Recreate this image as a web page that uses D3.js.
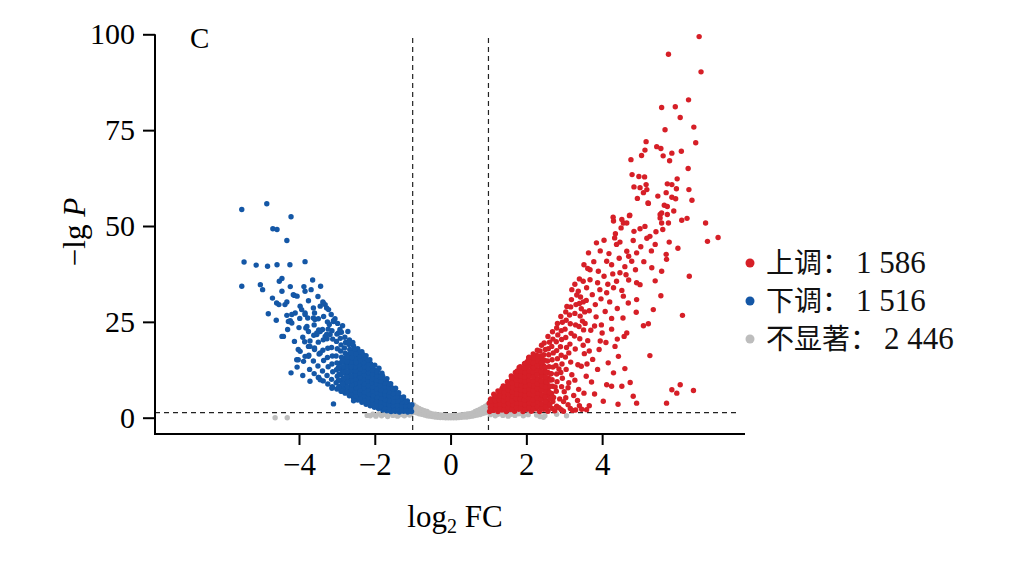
<!DOCTYPE html>
<html>
<head>
<meta charset="utf-8">
<script src="https://cdn.jsdelivr.net/npm/d3@7"></script>
<style>
  body { margin: 0; background: #fff; }
</style>
</head>
<body>
<div id="chart"></div>
<script>
// log2 FC, -lg P
var upPoints = [
  // dense core
  [1.03,1.6],[1.05,2.7],[1.02,3.8],[1.06,4.9],
  [1.13,1.9],[1.15,3.0],[1.12,4.1],[1.16,5.2],[1.14,6.1],
  [1.25,1.6],[1.24,2.6],[1.27,3.7],[1.23,4.8],[1.26,5.9],[1.25,7.0],
  [1.36,2.0],[1.35,3.1],[1.38,4.3],[1.34,5.4],[1.37,6.5],[1.36,7.6],[1.39,8.3],
  [1.47,1.6],[1.48,2.7],[1.46,3.8],[1.49,4.9],[1.45,6.0],[1.48,7.1],[1.47,8.2],[1.5,9.4],
  [1.58,2.1],[1.6,3.2],[1.57,4.4],[1.59,5.5],[1.56,6.6],[1.6,7.7],[1.58,8.9],[1.61,10.0],[1.6,10.9],
  [1.69,1.7],[1.7,2.8],[1.68,3.9],[1.71,5.0],[1.69,6.1],[1.67,7.2],[1.7,8.4],[1.72,9.5],[1.68,10.6],[1.71,11.8],
  [1.8,2.2],[1.81,3.3],[1.79,4.5],[1.82,5.6],[1.8,6.7],[1.78,7.9],[1.82,9.0],[1.8,10.1],[1.79,11.2],[1.83,12.4],[1.81,13.1],
  [1.91,1.6],[1.92,2.7],[1.9,3.8],[1.93,5.0],[1.91,6.2],[1.89,7.3],[1.92,8.4],[1.9,9.6],[1.94,10.7],[1.91,11.8],[1.92,12.9],[1.95,14.1],
  [2.02,2.2],[2.03,3.3],[2.01,4.4],[2.04,5.6],[2.02,6.7],[2.0,7.8],[2.03,9.0],[2.02,10.1],[2.05,11.3],[2.01,12.4],[2.04,13.6],[2.03,14.7],[2.06,15.6],
  [2.13,1.7],[2.14,2.8],[2.12,3.9],[2.15,5.1],[2.13,6.2],[2.11,7.4],[2.14,8.5],[2.12,9.6],[2.16,10.8],[2.13,12.0],[2.15,13.1],[2.12,14.3],[2.16,15.5],[2.18,16.6],
  [2.24,2.3],[2.25,3.4],[2.23,4.6],[2.26,5.7],[2.24,6.9],[2.22,8.0],[2.25,9.2],[2.23,10.4],[2.27,11.5],[2.24,12.7],[2.26,13.9],[2.23,15.0],[2.27,16.3],[2.29,17.6],
  [2.35,1.6],[2.36,2.9],[2.34,4.1],[2.37,5.3],[2.35,6.4],[2.33,7.6],[2.36,8.8],[2.34,10.0],[2.38,11.2],[2.35,12.4],[2.37,13.6],[2.34,14.9],[2.39,16.1],[2.36,17.4],[2.4,18.9],
  [2.46,2.2],[2.47,3.5],[2.45,4.8],[2.48,6.0],[2.46,7.2],[2.44,8.5],[2.47,9.7],[2.46,11.0],[2.49,12.3],[2.45,13.6],[2.48,15.0],[2.46,16.4],[2.5,17.8],[2.47,19.5],
  [2.57,1.7],[2.58,3.0],[2.56,4.4],[2.59,5.8],[2.57,7.3],[2.55,8.8],[2.58,10.3],[2.57,11.8],[2.6,13.3],[2.56,14.8],[2.59,16.4],[2.58,18.0],[2.61,19.7],[2.57,21.2],
  [2.68,2.4],[2.7,4.2],[2.67,6.3],[2.69,8.2],[2.68,9.9],[2.66,11.5],[2.7,13.2],[2.68,15.1],[2.71,16.9],[2.67,18.6],[2.7,20.5],[2.69,22.4],
  [2.8,3.0],[2.79,6.9],[2.81,9.4],[2.8,11.4],[2.78,13.6],[2.82,15.4],[2.8,17.5],[2.79,19.8],[2.83,21.6],[2.8,23.4],[2.82,24.6],
  [2.92,2.1],[2.93,8.1],[2.91,11.8],[2.94,14.0],[2.92,16.3],[2.9,18.5],[2.93,20.4],[2.92,22.7],[2.95,24.9],[2.91,26.4],
  [3.04,5.2],[3.05,12.6],[3.03,15.8],[3.06,18.3],[3.04,20.9],[3.02,23.1],[3.05,25.4],[3.04,27.6],[3.07,29.0],
  [3.16,2.4],[3.17,14.5],[3.15,19.2],[3.18,22.0],[3.16,24.5],[3.14,26.8],[3.17,28.9],[3.19,30.8],
  [3.28,9.8],[3.29,17.9],[3.27,21.3],[3.3,24.2],[3.28,27.2],[3.31,29.5],[3.33,32.0],
  [3.4,3.1],[3.41,20.6],[3.39,23.8],[3.42,26.5],[3.4,29.8],[3.43,31.5],
  [3.52,6.4],[3.53,16.7],[3.51,22.9],[3.54,27.6],[3.5,30.2],
  [2.75,1.8],[2.86,2.6],[2.98,1.7],[3.1,3.4],[3.22,1.9],[3.35,4.5],[3.46,2.2],[2.72,5.3],[2.88,4.9],
  [3.0,6.8],[2.95,10.3],[3.1,7.8],[2.76,8.0],[2.86,12.7],[3.2,11.2],[3.12,16.9],[3.36,13.8],
  // core fill
  [1.08,2.2],[1.09,3.3],[1.07,4.4],
  [1.19,2.3],[1.2,3.4],[1.18,4.5],[1.2,5.6],
  [1.3,2.4],[1.31,3.5],[1.29,4.6],[1.3,5.8],[1.32,6.9],
  [1.41,2.2],[1.42,3.3],[1.4,4.4],[1.42,5.5],[1.41,6.6],[1.43,7.7],
  [1.52,2.6],[1.53,3.7],[1.51,4.9],[1.53,6.1],[1.52,7.2],[1.54,8.4],
  [1.63,2.3],[1.64,3.4],[1.62,4.5],[1.64,5.6],[1.63,6.8],[1.65,7.9],[1.63,9.1],[1.63,10.3],
  [1.74,2.6],[1.75,3.8],[1.73,5.0],[1.75,6.2],[1.74,7.4],[1.76,8.6],[1.74,9.8],[1.74,11.0],[1.76,12.2],
  [1.85,2.5],[1.86,3.7],[1.84,4.9],[1.86,6.1],[1.85,7.3],[1.87,8.5],[1.85,9.7],[1.85,10.9],[1.86,12.1],[1.84,13.3],
  [1.96,2.2],[1.97,3.4],[1.95,4.6],[1.97,5.8],[1.96,7.0],[1.98,8.2],[1.96,9.4],[1.96,10.6],[1.97,11.8],[1.95,13.0],[1.97,14.2],
  [2.07,2.6],[2.08,3.8],[2.06,5.0],[2.08,6.2],[2.07,7.4],[2.09,8.6],[2.07,9.8],[2.07,11.0],[2.08,12.2],[2.06,13.4],[2.08,14.6],[2.07,15.8],
  [2.18,2.3],[2.19,3.5],[2.17,4.7],[2.19,5.9],[2.18,7.1],[2.2,8.3],[2.18,9.5],[2.19,10.7],[2.17,11.9],[2.19,13.1],[2.18,14.3],[2.2,15.5],
  [2.29,2.8],[2.3,4.0],[2.28,5.2],[2.3,6.4],[2.29,7.6],[2.29,8.8],[2.3,10.0],[2.28,11.2],[2.3,12.4],[2.29,13.6],[2.31,14.8],[2.3,16.0],
  [2.4,2.4],[2.41,3.6],[2.39,4.8],[2.41,6.0],[2.4,7.2],[2.41,8.4],[2.39,9.6],[2.41,10.8],[2.4,12.0],[2.42,13.2],[2.4,14.4],[2.41,15.7],
  [2.51,2.8],[2.52,4.1],[2.5,5.4],[2.52,6.7],[2.51,8.0],[2.53,9.3],[2.51,10.6],[2.52,11.9],[2.5,13.2],
  [2.62,3.5],[2.63,5.0],[2.61,6.6],[2.63,8.2],[2.62,9.8],[2.64,11.4],
  // middle band
  [3.45,28.4],[3.58,30.6],[3.66,27.9],[3.74,32.1],[3.82,29.5],[3.88,35.2],[3.97,31.0],[4.05,36.9],[4.15,34.8],
  [4.2,30.2],[4.28,37.5],[4.38,35.6],[4.45,41.6],[4.52,33.2],[4.6,39.4],[4.7,42.1],[4.82,46.2],[4.88,38.6],
  [5.02,44.6],[5.1,40.7],[5.18,46.8],[5.3,43.5],[5.42,48.5],[3.55,24.6],[3.7,22.8],[3.84,26.3],[3.98,24.2],
  [4.08,27.7],[4.25,25.9],[4.4,28.5],[4.1,19.6],[3.92,17.8],[3.75,15.2],[3.62,20.1],[3.88,12.6],[4.0,22.1],
  [3.72,9.3],[3.8,6.2],[3.45,13.4],[3.58,10.8],[3.38,7.4],[3.66,3.1],[3.25,5.8],[3.12,9.1],[2.98,4.2],
  [3.3,2.0],[4.42,3.5],[4.6,12.8],[3.5,18.9],[4.9,27.5],[5.55,31.8],[5.4,35.7],[6.3,36.9],[6.0,44.2],
  [5.22,55.9],[5.53,53.0],[4.56,50.8],[4.72,52.7],[4.84,48.6],[5.0,49.3],[5.13,49.9],[4.35,48.0],[5.26,47.3],
  [5.4,45.2],[5.6,49.1],[5.57,50.8],[5.77,45.8],[5.69,42.6],[5.7,41.3],[5.31,39.1],[5.57,38.2],[4.47,45.8],
  [4.38,45.2],[4.65,43.4],[4.91,43.0],[4.78,40.8],[3.64,43.0],[4.12,40.8],[4.25,39.9],[3.68,38.6],[3.9,38.2],
  [4.47,37.8],[4.63,37.3],[4.91,35.2],[5.0,34.7],[3.5,35.6],[3.68,36.0],[3.2,33.4],[3.37,33.0],[3.59,33.9],
  [3.94,33.4],[4.12,32.6],[4.3,33.9],[4.56,31.7],[4.69,29.9],[4.91,30.8],
  [3.62,38.9],[3.78,40.7],[3.95,43.5],[4.18,42.8],[4.33,46.9],[3.85,45.6],[4.5,49.5],[3.4,36.2],[3.28,34.8],
  [3.52,39.9],[4.05,46.3],[4.7,35.9],[4.25,23.1],[4.55,26.0],[3.95,20.0],[4.4,20.5],[3.66,17.4],[3.8,23.9],
  [3.48,25.2],[3.6,14.0],
  // scattered right
  [4.12,8.6],[4.25,8.2],[4.52,8.2],[4.74,9.2],[4.82,5.6],[4.91,3.8],[5.7,3.8],[5.84,7.3],[6.06,8.6],
  [5.97,6.4],[6.41,7.1],[4.03,4.3],[3.59,2.1],[4.16,14.3],[4.3,11.7],[4.34,18.6],[4.43,16.0],[5.26,16.2],
  [4.65,22.1],[4.58,21.2],[5.09,24.0],[5.22,24.5],[6.12,26.7],[5.35,28.2],
  // top
  [6.56,99.4],[5.75,94.8],[6.61,90.2],[6.28,82.9],[5.57,80.9],[5.93,81.1],[6.06,78.3],[6.42,75.8],[5.66,75.1],
  [5.16,72.0],[6.47,71.7],[5.44,70.7],[5.55,70.2],[5.13,69.8],[5.04,68.4],[5.84,69.0],[6.09,69.5],[5.61,68.3],
  [5.78,67.0],[4.76,67.3],[6.27,65.0],[4.79,63.4],[4.97,62.9],[5.12,62.8],[5.98,62.3],[4.84,60.2],[5.0,60.0],
  [5.16,60.8],[5.18,59.5],[5.72,61.0],[5.84,60.8],[5.96,59.7],[6.29,59.5],[5.09,58.7],[5.69,58.7],[5.47,57.8],
  [4.93,57.2],[5.84,57.5],[5.94,57.1],[6.37,56.7],[5.21,56.0],[5.64,55.4],[5.72,55.1],[5.89,53.9],[4.73,52.8],
  [4.29,52.3],[4.52,51.7],[4.65,50.8],[4.3,51.3],[5.57,53.4],[5.72,53.0],[5.53,52.1],[5.75,50.8],[6.1,51.5],
  [6.24,52.0],[6.73,50.8],[7.06,47.0],[6.78,46.0]
];

var downPoints = [
  // dense core
  [-1.03,1.6],[-1.05,2.6],[-1.02,3.4],
  [-1.13,1.5],[-1.15,2.5],[-1.12,3.5],[-1.14,4.4],
  [-1.24,1.7],[-1.26,2.7],[-1.23,3.7],[-1.25,4.7],[-1.24,5.4],
  [-1.35,1.5],[-1.37,2.5],[-1.34,3.5],[-1.36,4.5],[-1.35,5.5],[-1.37,6.5],
  [-1.46,1.7],[-1.48,2.7],[-1.45,3.8],[-1.47,4.8],[-1.46,5.9],[-1.48,6.9],[-1.45,7.7],
  [-1.57,1.6],[-1.59,2.6],[-1.56,3.7],[-1.58,4.7],[-1.57,5.8],[-1.59,6.9],[-1.56,7.9],[-1.58,8.9],
  [-1.68,1.8],[-1.7,2.9],[-1.67,4.0],[-1.69,5.0],[-1.68,6.1],[-1.7,7.2],[-1.67,8.3],[-1.69,9.3],[-1.68,10.2],
  [-1.79,2.0],[-1.81,3.1],[-1.78,4.2],[-1.8,5.3],[-1.79,6.4],[-1.81,7.5],[-1.78,8.6],[-1.8,9.7],[-1.79,10.8],[-1.81,11.6],
  [-1.9,2.4],[-1.92,3.5],[-1.89,4.6],[-1.91,5.7],[-1.9,6.8],[-1.92,7.9],[-1.89,9.0],[-1.91,10.1],[-1.9,11.2],[-1.92,12.3],[-1.89,12.9],
  [-2.01,2.7],[-2.03,3.8],[-2.0,4.9],[-2.02,6.0],[-2.01,7.1],[-2.03,8.2],[-2.0,9.3],[-2.02,10.4],[-2.01,11.5],[-2.03,12.6],[-2.0,13.7],
  [-2.12,3.1],[-2.14,4.2],[-2.11,5.3],[-2.13,6.4],[-2.12,7.5],[-2.14,8.6],[-2.11,9.7],[-2.13,10.8],[-2.12,11.9],[-2.14,13.0],[-2.11,14.1],[-2.13,15.1],
  [-2.23,3.5],[-2.25,4.6],[-2.22,5.7],[-2.24,6.8],[-2.23,7.9],[-2.25,9.0],[-2.22,10.1],[-2.24,11.2],[-2.23,12.3],[-2.25,13.4],[-2.22,14.5],[-2.24,15.6],[-2.23,16.2],
  [-2.34,4.0],[-2.36,5.1],[-2.33,6.2],[-2.35,7.3],[-2.34,8.4],[-2.36,9.5],[-2.33,10.6],[-2.35,11.7],[-2.34,12.8],[-2.36,13.9],[-2.33,15.0],[-2.35,16.1],[-2.34,17.2],
  [-2.45,4.6],[-2.47,5.7],[-2.44,6.8],[-2.46,7.9],[-2.45,9.0],[-2.47,10.1],[-2.44,11.2],[-2.46,12.3],[-2.45,13.4],[-2.47,14.5],[-2.44,15.6],[-2.46,16.8],[-2.45,18.0],
  [-2.56,5.2],[-2.58,6.3],[-2.55,7.4],[-2.57,8.5],[-2.56,9.6],[-2.58,10.7],[-2.55,11.8],[-2.57,12.9],[-2.56,14.0],[-2.58,15.1],[-2.55,16.3],[-2.57,17.5],[-2.56,18.7],[-2.58,19.6],
  [-2.67,5.7],[-2.69,6.9],[-2.66,8.1],[-2.68,9.3],[-2.67,10.5],[-2.69,11.7],[-2.66,12.9],[-2.68,14.1],[-2.67,15.3],[-2.69,16.5],[-2.66,17.8],[-2.68,19.1],[-2.67,20.3],
  [-2.78,6.4],[-2.8,7.7],[-2.77,9.0],[-2.79,10.3],[-2.78,11.6],[-2.8,12.9],[-2.77,14.2],[-2.79,15.5],[-2.78,16.8],[-2.8,18.2],[-2.77,19.6],[-2.79,21.0],
  [-2.89,6.9],[-2.91,8.3],[-2.88,9.7],[-2.9,11.2],[-2.89,12.7],[-2.91,14.2],[-2.88,15.8],[-2.9,17.4],[-2.89,19.0],[-2.91,20.7],[-2.88,22.3],
  [-3.0,7.5],[-3.02,9.1],[-2.99,10.8],[-3.01,12.5],[-3.0,14.3],[-3.02,16.1],[-2.99,18.0],[-3.01,19.9],[-3.0,21.8],
  [-3.12,8.1],[-3.14,10.0],[-3.11,12.0],[-3.13,14.0],[-3.12,16.1],[-3.14,18.3],[-3.11,20.5],[-3.13,22.7],
  [-3.24,8.8],[-3.26,11.0],[-3.23,13.3],[-3.25,15.7],[-3.24,18.1],[-3.26,20.6],[-3.23,23.1],
  [-3.36,9.6],[-3.38,12.2],[-3.35,14.9],[-3.37,17.6],[-3.36,20.3],[-3.38,23.0],
  [-3.48,10.5],[-3.5,13.5],[-3.47,16.6],[-3.49,19.7],[-3.48,22.9],
  [-3.6,11.5],[-3.62,14.8],[-3.59,18.2],[-3.61,21.5],
  [-3.72,12.6],[-3.74,16.3],[-3.71,20.0],
  // core fill
  [-1.08,2.1],[-1.09,3.0],
  [-1.19,2.1],[-1.2,3.1],[-1.18,4.1],
  [-1.3,2.0],[-1.31,3.0],[-1.29,4.0],[-1.3,5.0],
  [-1.41,2.2],[-1.42,3.2],[-1.4,4.3],[-1.42,5.4],[-1.41,6.4],
  [-1.52,2.1],[-1.53,3.2],[-1.51,4.2],[-1.53,5.3],[-1.52,6.3],[-1.54,7.4],
  [-1.63,2.3],[-1.64,3.4],[-1.62,4.5],[-1.64,5.6],[-1.63,6.7],[-1.65,7.7],[-1.63,8.8],
  [-1.74,2.5],[-1.75,3.6],[-1.73,4.7],[-1.75,5.8],[-1.74,6.9],[-1.76,8.0],[-1.74,9.1],[-1.75,10.0],
  [-1.85,2.9],[-1.86,4.0],[-1.84,5.1],[-1.86,6.2],[-1.85,7.3],[-1.87,8.4],[-1.85,9.5],[-1.86,10.6],
  [-1.96,3.2],[-1.97,4.3],[-1.95,5.4],[-1.97,6.5],[-1.96,7.6],[-1.98,8.7],[-1.96,9.8],[-1.97,10.9],[-1.96,12.0],
  [-2.07,3.6],[-2.08,4.7],[-2.06,5.8],[-2.08,6.9],[-2.07,8.0],[-2.09,9.1],[-2.07,10.2],[-2.08,11.3],[-2.07,12.4],[-2.08,13.5],
  [-2.18,4.0],[-2.19,5.1],[-2.17,6.2],[-2.19,7.3],[-2.18,8.4],[-2.2,9.5],[-2.18,10.6],[-2.18,11.7],[-2.19,12.8],[-2.17,13.9],[-2.19,15.0],
  [-2.29,4.5],[-2.3,5.6],[-2.28,6.7],[-2.3,7.8],[-2.29,8.9],[-2.31,10.0],[-2.29,11.1],[-2.3,12.2],[-2.28,13.3],[-2.3,14.4],[-2.29,15.5],[-2.31,16.4],
  [-2.4,5.0],[-2.41,6.1],[-2.39,7.2],[-2.41,8.3],[-2.4,9.4],[-2.4,10.5],[-2.41,11.6],[-2.39,12.7],[-2.41,13.8],[-2.4,14.9],[-2.42,16.0],[-2.4,17.1],
  [-2.51,5.6],[-2.52,6.7],[-2.5,7.8],[-2.52,8.9],[-2.51,10.0],[-2.53,11.1],[-2.51,12.2],[-2.52,13.3],[-2.5,14.4],[-2.52,15.5],[-2.51,16.7],[-2.53,17.9],
  [-2.62,6.1],[-2.63,7.3],[-2.61,8.5],[-2.63,9.7],[-2.62,10.9],[-2.64,12.1],[-2.62,13.3],[-2.63,14.5],[-2.61,15.7],[-2.63,16.9],
  [-2.73,6.8],[-2.74,8.1],[-2.72,9.4],[-2.74,10.7],[-2.73,12.0],[-2.75,13.3],[-2.73,14.6],[-2.74,15.9],
  [-2.84,7.3],[-2.85,8.8],[-2.83,10.3],[-2.85,11.8],[-2.84,13.3],[-2.86,14.8],
  [-2.95,8.0],[-2.96,9.7],[-2.94,11.4],[-2.96,13.1],
  // scattered
  [-4.85,55.8],[-5.51,54.3],[-4.21,52.4],[-4.69,49.3],[-4.58,49.1],[-4.32,46.2],[-5.45,40.6],[-5.13,39.8],
  [-4.83,39.5],[-4.58,39.9],[-4.24,39.9],[-3.84,40.7],[-5.51,34.3],[-5.02,34.7],[-4.96,33.4],[-4.52,35.6],
  [-4.45,36.3],[-4.23,34.2],[-3.87,34.2],[-3.84,33.0],[-3.64,35.9],[-3.68,33.4],[-3.43,34.3],[-4.45,33.0],
  [-4.12,31.9],[-4.05,31.7],[-4.59,29.9],[-4.53,29.5],[-4.32,30.2],[-4.81,27.1],[-4.1,27.3],[-3.93,28.2],
  [-3.84,27.3],[-3.62,28.6],[-3.59,27.3],[-3.37,30.2],[-3.31,29.5],[-3.44,29.1],[-3.22,28.2],[-4.32,26.7],
  [-4.23,25.3],[-4.19,24.7],[-3.84,26.9],[-3.77,26.0],[-3.09,25.3],[-3.05,25.8],[-3.58,25.6],[-3.49,25.8],
  [-3.82,23.4],[-3.75,22.5],[-4.45,21.2],[-4.12,19.9],[-3.53,21.7],[-3.44,22.5],[-3.31,21.2],[-3.18,21.7],
  [-2.92,23.0],[-2.71,22.5],[-3.71,18.6],[-3.59,17.8],[-4.02,17.8],[-3.84,16.0],[-4.02,15.1],[-4.21,11.7],
  [-3.71,9.5],[-3.49,10.5],[-3.09,3.6],[-3.12,7.9],[-4.15,32.1],[-4.37,29.5],[-3.97,29.1],[-3.36,29.9],
  [-3.27,28.6],[-4.28,25.1],[-4.19,26.9],[-3.62,26.0],[-3.09,25.1],[-4.41,21.2],[-3.79,23.8],[-3.53,22.1],
  [-3.27,21.7],[-2.96,22.1],[-3.97,17.3],[-4.06,15.1],[-3.75,16.0],[-3.44,16.9],[-3.44,9.9],[-2.87,6.9],
  [-2.56,4.4],[-3.13,7.7],[-3.88,14.7],[-3.75,18.6],[-2.7,19.5],[-3.2,24.3],[-2.85,24.0],
  [-3.9,21.0],[-4.0,23.5],[-3.6,24.2],[-3.35,26.4],[-3.15,26.9],[-3.5,31.6],[-3.75,30.5],[-4.3,23.0],
  [-4.6,25.4],[-4.05,13.2],[-3.9,11.0],[-3.85,19.8],[-3.98,25.9],[-3.25,25.0],[-2.98,24.6],[-4.7,31.2]
];

var nsPoints = [
  [-4.63,0.0],[-4.31,0.0],[-2.2,0.6],[-2.12,0.5],[-2.05,0.9],[-1.97,0.4],[-1.9,1.0],[-1.82,0.5],[-1.75,0.9],
  [-1.66,0.3],[-1.6,1.1],[-1.52,0.6],[-1.45,1.0],[-1.4,0.4],[-1.33,0.8],[-1.28,1.2],[-1.22,0.5],[-1.18,0.9],
  [-1.12,1.2],[-1.08,0.7],[-1.04,1.1],
  [-0.97,1.5],[-0.98,2.1],[-0.96,2.7],[-0.97,3.3],
  [-0.9,1.3],[-0.91,1.8],[-0.89,2.3],[-0.9,2.8],
  [-0.83,1.0],[-0.84,1.5],[-0.82,2.0],[-0.83,2.4],
  [-0.76,0.9],[-0.77,1.3],[-0.75,1.7],[-0.76,2.1],
  [-0.69,0.7],[-0.7,1.1],[-0.68,1.5],[-0.69,1.8],
  [-0.62,0.5],[-0.63,0.9],[-0.61,1.3],[-0.62,1.6],
  [-0.55,0.4],[-0.56,0.8],[-0.54,1.2],
  [-0.48,0.3],[-0.49,0.7],[-0.47,1.0],
  [-0.41,0.2],[-0.42,0.55],[-0.4,0.9],
  [-0.34,0.1],[-0.35,0.45],[-0.33,0.8],
  [-0.27,0.05],[-0.28,0.4],[-0.26,0.7],
  [-0.2,0.05],[-0.21,0.35],[-0.19,0.65],
  [-0.13,0.0],[-0.14,0.3],[-0.12,0.6],
  [-0.06,0.0],[-0.07,0.3],[-0.05,0.55],
  [0.01,0.0],[0.0,0.3],[0.02,0.55],
  [0.08,0.0],[0.07,0.3],[0.09,0.6],
  [0.15,0.0],[0.14,0.3],[0.16,0.6],
  [0.22,0.05],[0.21,0.35],[0.23,0.65],
  [0.29,0.1],[0.28,0.4],[0.3,0.75],
  [0.36,0.15],[0.35,0.5],[0.37,0.85],
  [0.43,0.2],[0.42,0.6],[0.44,0.95],
  [0.5,0.3],[0.49,0.7],[0.51,1.05],
  [0.57,0.4],[0.56,0.8],[0.58,1.25],
  [0.64,0.55],[0.63,0.95],[0.65,1.35],[0.65,1.65],
  [0.71,0.7],[0.7,1.1],[0.72,1.5],[0.71,1.9],
  [0.78,0.85],[0.77,1.3],[0.79,1.75],[0.78,2.2],
  [0.85,1.1],[0.84,1.6],[0.86,2.1],[0.85,2.6],
  [0.92,1.3],[0.91,1.9],[0.93,2.5],[0.92,3.0],
  [0.98,1.5],[0.97,2.2],[0.99,2.9],[0.98,3.4],
  [1.05,0.8],[1.12,1.1],[1.18,0.5],[1.25,0.9],[1.3,1.2],[1.38,0.6],[1.45,1.0],[1.52,0.4],[1.6,0.9],
  [1.7,0.6],[1.8,1.0],[1.92,0.5],[2.05,0.8],[2.27,0.7],[2.36,0.3],[2.45,0.1],[2.49,0.5],[2.8,0.9],[3.06,0.5]
];

var xTicks = [-4, -2, 0, 2, 4];
var yTicks = [0, 25, 50, 75, 100];
var fcCutoffs = [-1, 1];
var pCutoff = 1.3;
var legendNames = ["上调：", "下调：", "不显著："];
var legendCounts = ["1 586", "1 516", "2 446"];
var legendColors = ["#d61f27", "#1457a6", "#bdbdbd"];

var width = 1025, height = 561;
var font = "'Liberation Serif','Times New Roman','Noto Sans CJK SC',serif";

// scales
var x = d3.scaleLinear().domain([-7.8, 7.77]).range([155, 745]);
var y = d3.scaleLinear().domain([0, 100]).range([417.7, 34.3]);
var yBase = 434;

var svg = d3.select("#chart").append("svg")
    .attr("width", width)
    .attr("height", height)
    .style("background", "#fff");

// threshold lines
svg.selectAll(".vcut")
    .data(fcCutoffs)
    .enter().append("line")
    .attr("x1", function (d) { return x(d); })
    .attr("x2", function (d) { return x(d); })
    .attr("y1", 38)
    .attr("y2", yBase)
    .style("stroke", "#222")
    .style("stroke-width", 1.2)
    .style("stroke-dasharray", "5,4");

svg.append("line")
    .attr("x1", x.range()[0])
    .attr("x2", 740)
    .attr("y1", y(pCutoff))
    .attr("y2", y(pCutoff))
    .style("stroke", "#222")
    .style("stroke-width", 1.2)
    .style("stroke-dasharray", "5,4");

// points
function drawPoints(data, color) {
    svg.append("g").selectAll("circle")
        .data(data)
        .enter().append("circle")
        .attr("cx", function (d) { return x(d[0]); })
        .attr("cy", function (d) { return y(d[1]); })
        .attr("r", 2.7)
        .style("fill", color);
}
drawPoints(nsPoints, legendColors[2]);
drawPoints(downPoints, legendColors[1]);
drawPoints(upPoints, legendColors[0]);

// axes
var xAxis = svg.append("g")
    .attr("transform", "translate(0," + yBase + ")")
    .call(d3.axisBottom(x).tickValues(xTicks).tickSize(11).tickPadding(8));
var yAxis = svg.append("g")
    .attr("transform", "translate(" + x.range()[0] + ",0)")
    .call(d3.axisLeft(y).tickValues(yTicks).tickSize(12).tickPadding(8));

[xAxis, yAxis].forEach(function (g) {
    g.select(".domain").remove();
    g.selectAll(".tick line").style("stroke", "#000").style("stroke-width", 2);
    g.selectAll(".tick text")
        .style("font-family", font)
        .style("font-size", "30px")
        .style("fill", "#000");
});
xAxis.selectAll(".tick text").style("font-size", "31px");

svg.append("line")
    .attr("x1", x.range()[0]).attr("x2", x.range()[0])
    .attr("y1", y(100)).attr("y2", yBase + 1)
    .style("stroke", "#000").style("stroke-width", 2);
svg.append("line")
    .attr("x1", x.range()[0] - 1).attr("x2", x.range()[1])
    .attr("y1", yBase).attr("y2", yBase)
    .style("stroke", "#000").style("stroke-width", 2);

// axis titles
var xTitle = svg.append("text")
    .attr("x", 455)
    .attr("y", 527)
    .attr("text-anchor", "middle")
    .style("font-family", font)
    .style("font-size", "31px");
xTitle.append("tspan").text("log");
xTitle.append("tspan").attr("dy", 6).style("font-size", "20px").text("2");
xTitle.append("tspan").attr("dy", -6).text(" FC");

var yTitle = svg.append("text")
    .attr("transform", "translate(85,232) rotate(-90)")
    .attr("text-anchor", "middle")
    .style("font-family", font)
    .style("font-size", "31px");
yTitle.append("tspan").text("\u2212lg ");
yTitle.append("tspan").style("font-style", "italic").text("P");

// panel letter
svg.append("text")
    .attr("x", 190)
    .attr("y", 48)
    .style("font-family", font)
    .style("font-size", "29px")
    .text("C");

// legend
var legend = svg.append("g").selectAll("g")
    .data(legendNames)
    .enter().append("g")
    .attr("transform", function (d, i) { return "translate(750," + (263 + i * 38) + ")"; });
legend.append("circle")
    .attr("r", 4.5)
    .style("fill", function (d, i) { return legendColors[i]; });
var legendText = legend.append("text")
    .attr("x", 16)
    .attr("y", 10)
    .style("font-family", font)
    .style("font-size", "28px")
    .style("fill", "#111");
legendText.append("tspan").text(function (d) { return d; });
legendText.append("tspan")
    .attr("dx", 6)
    .style("font-size", "31px")
    .text(function (d, i) { return legendCounts[i]; });
</script>
</body>
</html>
